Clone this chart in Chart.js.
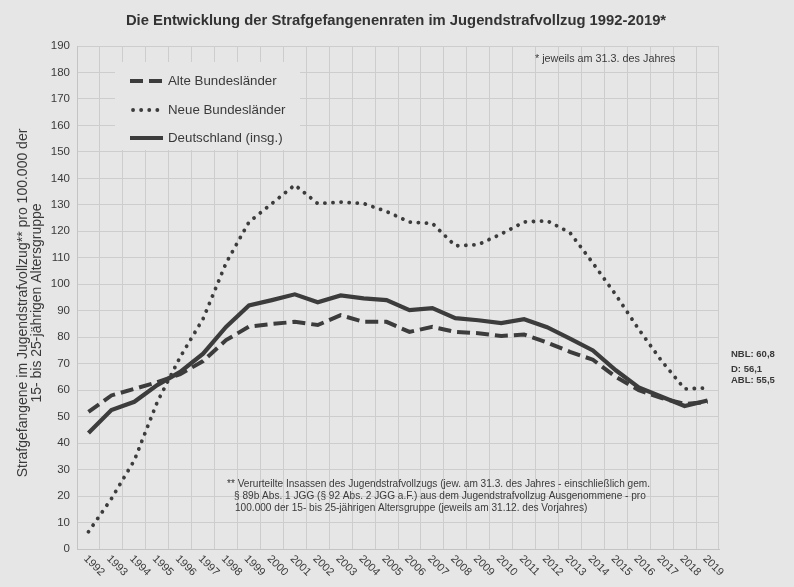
<!DOCTYPE html>
<html>
<head>
<meta charset="utf-8">
<script src="https://cdn.jsdelivr.net/npm/chart.js@4.4.0/dist/chart.umd.min.js"></script>
<style>
  html, body { margin: 0; padding: 0; background: #e6e6e6; }
  #wrap { width: 794px; height: 587px; }
</style>
</head>
<body>
<div id="wrap"><canvas id="chart" width="794" height="587"></canvas></div>
<script>
    var years = ['1992','1993','1994','1995','1996','1997','1998','1999','2000','2001',
                 '2002','2003','2004','2005','2006','2007','2008','2009','2010','2011',
                 '2012','2013','2014','2015','2016','2017','2018','2019'];
    var alteBL = [51.8, 58, 60.5, 63, 66, 71, 78.9, 84, 85, 85.8,
                  84.6, 88.3, 85.8, 85.8, 82, 83.9, 82, 81.5, 80.5, 81,
                  78, 74.5, 71.5, 65, 60, 57, 54.8, 55.5];
    var neueBL = [6.5, 19, 33.5, 55.5, 72.5, 87, 108, 123.5, 130.5, 137.5,
                  130.5, 131, 130.5, 127.5, 123.5, 123, 114.5, 115, 119, 123.5,
                  124, 119.5, 108, 96, 83, 71, 60.5, 60.8];
    var deutschland = [43.8, 52.5, 55.6, 61.9, 66.9, 73.8, 83.9, 92, 94, 96.2,
                       93.2, 95.8, 94.7, 94, 90.2, 91, 87.2, 86.4, 85.3, 86.8,
                       83.8, 79.5, 75, 67.5, 61, 57.5, 54, 56.1];
    var endLabels = ['NBL: 60,8', 'D: 56,1', 'ABL: 55,5'];
    var titleText = 'Die Entwicklung der Strafgefangenenraten im Jugendstrafvollzug 1992-2019*';
    var yTitle = ['Strafgefangene im Jugendstrafvollzug** pro 100.000 der', '15- bis 25-jährigen Altersgruppe'];
    var noteTop = '* jeweils am 31.3. des Jahres';
    var noteBottom = ['** Verurteilte Insassen des Jugendstrafvollzugs (jew. am 31.3. des Jahres - einschließlich gem.',
                      '§ 89b Abs. 1 JGG (§ 92 Abs. 2 JGG a.F.) aus dem Jugendstrafvollzug Ausgenommene - pro',
                      '100.000 der 15- bis 25-jährigen Altersgruppe (jeweils am 31.12. des Vorjahres)'];

    var lineColor = '#3c3c3c';
    var textColor = '#3a3a3a';
    var bgColor = '#e6e6e6';
    var font = '"Liberation Sans", Arial, sans-serif';

    // background, title, legend box, notes, rotated year labels
    var extras = {
        id: 'extras',
        beforeDraw: function(chart){
            var ctx = chart.ctx;
            ctx.save();
            ctx.fillStyle = bgColor;
            ctx.fillRect(0, 0, chart.width, chart.height);
            ctx.restore();
        },
        afterDatasetsDraw: function(chart){
            var ctx = chart.ctx;
            var area = chart.chartArea;
            var xs = chart.scales.x;
            ctx.save();

            // title
            ctx.fillStyle = '#333333';
            ctx.font = 'bold 14.8px ' + font;
            ctx.textAlign = 'center';
            ctx.textBaseline = 'middle';
            ctx.fillText(titleText, 396, 21);

            // y axis title
            ctx.fillStyle = textColor;
            ctx.font = '14px ' + font;
            ctx.save();
            ctx.translate(23, 303);
            ctx.rotate(-Math.PI / 2);
            ctx.fillText(yTitle[0], 0, 0);
            ctx.fillText(yTitle[1], 0, 14);
            ctx.restore();

            // legend box (covers grid)
            ctx.fillStyle = bgColor;
            ctx.fillRect(115, 62, 185, 88);
            var rows = [81, 110, 138];
            chart.data.datasets.forEach(function(ds, i){
                var y = rows[i];
                ctx.strokeStyle = ds.borderColor;
                ctx.lineWidth = ds.borderWidth;
                ctx.lineCap = ds.borderCapStyle || 'butt';
                ctx.setLineDash(ds.borderDash || []);
                ctx.beginPath();
                ctx.moveTo(i == 1 ? 133 : 130, y);
                ctx.lineTo(163, y);
                ctx.stroke();
                ctx.setLineDash([]);
                ctx.fillStyle = textColor;
                ctx.font = '13.3px ' + font;
                ctx.textBaseline = 'middle';
                ctx.textAlign = 'left';
                ctx.fillText(ds.label, 168, y);
            });

            // notes
            ctx.fillStyle = textColor;
            ctx.textAlign = 'left';
            ctx.textBaseline = 'middle';
            ctx.font = '10.8px ' + font;
            ctx.fillText(noteTop, 535, 59);
            ctx.font = '10.1px ' + font;
            ctx.fillText(noteBottom[0], 227, 484);
            ctx.fillText(noteBottom[1], 234, 496);
            ctx.fillText(noteBottom[2], 235, 508);

            // end values
            ctx.font = 'bold 9.5px ' + font;
            ctx.fillText(endLabels[0], 731, 354);
            ctx.fillText(endLabels[1], 731, 369);
            ctx.fillText(endLabels[2], 731, 380);

            // year labels, rotated clockwise
            ctx.font = '11px ' + font;
            for(var i = 0; i < years.length; i++){
                var x = xs.getPixelForTick(i);
                ctx.save();
                ctx.translate(x - 3, area.bottom + 8);
                ctx.rotate(Math.PI / 4);
                ctx.fillText(years[i], 0, 0);
                ctx.restore();
            }
            ctx.restore();
        }
    };

    new Chart(document.getElementById('chart'), {
        type: 'line',
        data: {
            labels: years,
            datasets: [
                {
                    label: 'Alte Bundesländer',
                    data: alteBL,
                    borderColor: lineColor,
                    borderWidth: 4,
                    borderDash: [13, 6],
                    pointRadius: 0,
                    tension: 0
                },
                {
                    label: 'Neue Bundesländer',
                    data: neueBL,
                    borderColor: lineColor,
                    borderWidth: 3.8,
                    borderDash: [0.1, 8],
                    borderCapStyle: 'round',
                    pointRadius: 0,
                    tension: 0
                },
                {
                    label: 'Deutschland (insg.)',
                    data: deutschland,
                    borderColor: lineColor,
                    borderWidth: 4.2,
                    pointRadius: 0,
                    tension: 0
                }
            ]
        },
        options: {
            responsive: false,
            animation: false,
            layout: { padding: { left: 8, right: 75, bottom: 0, top: 46 } },
            plugins: {
                legend: { display: false },
                tooltip: { enabled: false },
                title: { display: false }
            },
            scales: {
                x: {
                    offset: true,
                    grid: { offset: true, color: '#cdcdcd', drawTicks: false },
                    border: { color: '#c4c4c4' },
                    ticks: { display: false },
                    afterFit: function(scale){ scale.height = 38; }
                },
                y: {
                    min: 0,
                    max: 190,
                    ticks: { stepSize: 10, color: textColor, font: { family: font, size: 11.5 }, padding: 7 },
                    grid: { color: '#cdcdcd', drawTicks: false },
                    border: { color: '#c4c4c4' },
                    afterFit: function(scale){ scale.width = 69; }
                }
            }
        },
        plugins: [extras]
    });
</script>
</body>
</html>
